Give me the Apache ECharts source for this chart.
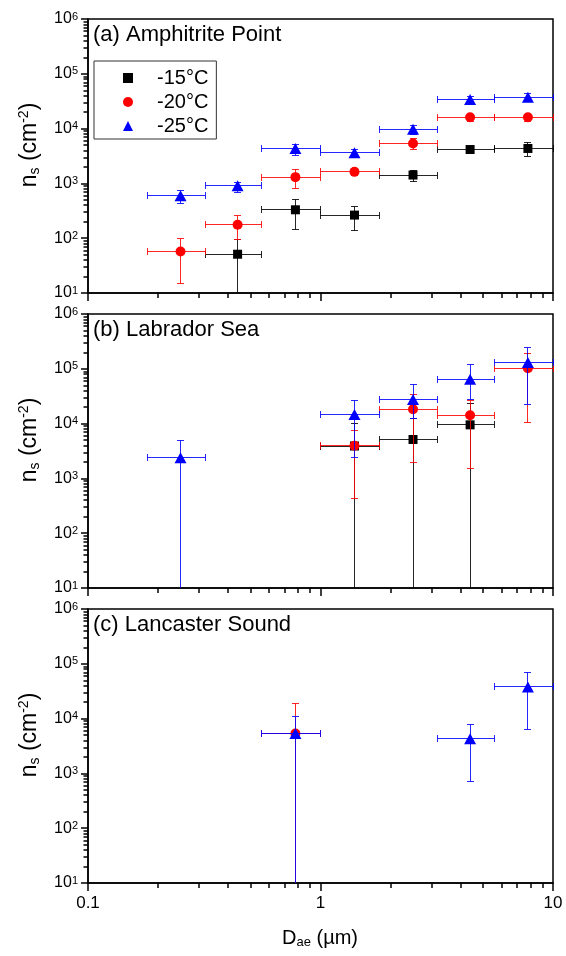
<!DOCTYPE html>
<html><head><meta charset="utf-8">
<script src="https://cdn.jsdelivr.net/npm/echarts@6/dist/echarts.min.js"></script>
<style>html,body{margin:0;padding:0;background:#fff}#c{width:566px;height:956px}</style>
</head><body><div id="c"></div>
<script>
// ---------- labels ----------
const tempNames = ['-15°C', '-20°C', '-25°C'];
const panelTitles = ['(a) Amphitrite Point', '(b) Labrador Sea', '(c) Lancaster Sound'];

// ---------- size bins (µm): centre, lower edge, upper edge ----------
const binCenter = [0.25, 0.44, 0.78, 1.4, 2.5, 4.4, 7.8];
const binLow    = [0.18, 0.32, 0.56, 1.0, 1.8, 3.2, 5.6];
const binHigh   = [0.32, 0.56, 1.0, 1.8, 3.2, 5.6, 10];

// ---------- n_s values (cm^-2); null = no point; 0 = lower error reaches zero ----------
// (a) Amphitrite Point
const a15 = [null, 51, 330, 264, 1420, 4150, 4340];
const a15Lo = [null, 0, 143, 141, 1070, 3560, 3100];
const a15Hi = [null, 96, 516, 386, 1720, 4710, 5570];
const a20 = [57, 176, 1300, 1625, 5350, 16150, 16150];
const a20Lo = [15.2, 96, 798, 1397, 4220, 13450, 13450];
const a20Hi = [99, 257, 1796, 1897, 6590, 18300, 18300];
const a25 = [594, 903, 4340, 3612, 9750, 33900, 37300];
const a25Lo = [437, 684, 3270, 2933, 7800, 27100, 31100];
const a25Hi = [743, 1054, 5130, 4220, 11200, 38400, 43500];
// (b) Labrador Sea
const b15 = [null, null, null, 3900, 5130, 9490, null];
const b15Lo = [null, null, null, 0, 0, 0, null];
const b15Hi = [null, null, null, 9890, 12500, 23500, null];
const b20 = [null, null, null, 3930, 18300, 14200, 102000];
const b20Lo = [null, null, null, 431, 1977, 1540, 10600];
const b20Hi = [null, null, null, 7480, 34400, 26700, 192000];
const b25 = [2370, null, null, 14600, 27500, 64400, 130000];
const b25Lo = [0, null, null, 2410, 12500, 27000, 21900];
const b25Hi = [4910, null, null, 26700, 50800, 119000, 246000];
// (c) Lancaster Sound
const c15 = [null, null, null, null, null, null, null];
const c15Lo = [null, null, null, null, null, null, null];
const c15Hi = [null, null, null, null, null, null, null];
const c20 = [null, null, 5350, null, null, null, null];
const c20Lo = [null, null, 0, null, null, null, null];
const c20Hi = [null, null, 18800, null, null, null, null];
const c25 = [null, null, 5350, null, null, 4280, 37800];
const c25Lo = [null, null, 0, null, null, 722, 6410];
const c25Hi = [null, null, 11070, null, null, 7900, 70100];

const panels = [
  [[a15, a15Lo, a15Hi], [a20, a20Lo, a20Hi], [a25, a25Lo, a25Hi]],
  [[b15, b15Lo, b15Hi], [b20, b20Lo, b20Hi], [b25, b25Lo, b25Hi]],
  [[c15, c15Lo, c15Hi], [c20, c20Lo, c20Hi], [c25, c25Lo, c25Hi]]
];

const colors = ['#000000', '#ff0000', '#0000ff'];
const symbols = ['rect', 'circle', 'triangle'];
const symbolSizes = [9, 10, [12, 11]];
const FONT = '"Liberation Sans", Arial, sans-serif';

const gridTops = [19, 314, 609];
const gridH = 274, gridLeft = 88, gridRight = 13;

const chart = echarts.init(document.getElementById('c'));

const grids = [], xAxes = [], yAxes = [], series = [], graphics = [];

function crisp(v) { return Math.round(v - 0.5) + 0.5; }

function renderErr(params, api) {
  const x = api.value(0), y = api.value(1);
  const xl = api.value(2), xh = api.value(3), yl = api.value(4), yh = api.value(5);
  const cs = params.coordSys;
  const bottom = cs.y + cs.height;
  const c = api.coord([x, y]);
  const cx = crisp(c[0]), cy = crisp(c[1]);
  const color = api.visual('color');
  const cap = 3.5;
  const ch = [];
  const line = (x1, y1, x2, y2) => ch.push({
    type: 'line', shape: { x1, y1, x2, y2 },
    style: { stroke: color, lineWidth: 1, opacity: 0.85 }
  });
  const pxl = crisp(api.coord([xl, y])[0]);
  const pxh = crisp(api.coord([xh, y])[0]);
  line(pxl, cy, pxh, cy);
  line(pxl, cy - cap, pxl, cy + cap);
  line(pxh, cy - cap, pxh, cy + cap);
  const pyh = crisp(api.coord([x, yh])[1]);
  line(cx, cy, cx, pyh);
  line(cx - cap, pyh, cx + cap, pyh);
  if (yl > 0) {
    const pyl = crisp(api.coord([x, yl])[1]);
    line(cx, cy, cx, pyl);
    line(cx - cap, pyl, cx + cap, pyl);
  } else {
    line(cx, cy, cx, bottom);
  }
  return { type: 'group', children: ch };
}

panels.forEach((panel, pi) => {
  grids.push({ left: gridLeft, right: gridRight, top: gridTops[pi], height: gridH,
    show: true, borderColor: '#000', borderWidth: 1.5, backgroundColor: 'transparent' });
  xAxes.push({
    type: 'log', logBase: 10, min: 0.1, max: 10, gridIndex: pi,
    axisLine: { onZero: false, lineStyle: { color: '#000', width: 1.5 } },
    axisTick: { inside: false, length: 8, lineStyle: { color: '#000', width: 1.5 } },
    minorTick: { show: true, splitNumber: 9, length: 5, lineStyle: { color: '#000', width: 1.5 } },
    axisLabel: { show: pi === 2, color: '#000', fontSize: 17, fontFamily: FONT, margin: 12 },
    splitLine: { show: false }, minorSplitLine: { show: false }
  });
  yAxes.push({
    type: 'log', logBase: 10, min: 10, max: 1000000, gridIndex: pi, splitNumber: 5,
    axisLine: { onZero: false, lineStyle: { color: '#000', width: 1.5 } },
    axisTick: { inside: false, length: 7, lineStyle: { color: '#000', width: 1.5 } },
    minorTick: { show: true, splitNumber: 9, length: 4.5, lineStyle: { color: '#000', width: 1.5 } },
    axisLabel: {
      color: '#000', fontFamily: FONT, margin: 10,
      formatter: v => '{b|10}{s|' + Math.round(Math.log10(v)) + '}',
      rich: {
        b: { fontSize: 16, lineHeight: 16, fontFamily: FONT, color: '#000' },
        s: { fontSize: 11, lineHeight: 11, verticalAlign: 'top', fontFamily: FONT, color: '#000' }
      }
    },
    splitLine: { show: false }, minorSplitLine: { show: false }
  });

  panel.forEach((arrs, ti) => {
    const [vals, lo, hi] = arrs;
    const errData = [], ptData = [];
    vals.forEach((v, k) => {
      if (v === null) return;
      errData.push([binCenter[k], v, binLow[k], binHigh[k], lo[k], hi[k]]);
      ptData.push([binCenter[k], v]);
    });
    series.push({
      type: 'custom', name: 'err' + pi + ti, xAxisIndex: pi, yAxisIndex: pi, clip: false,
      dimensions: ['x', 'y', 'xlo', 'xhi', 'ylo', 'yhi'], encode: { x: 0, y: 1 },
      itemStyle: { color: colors[ti] }, data: errData, renderItem: renderErr, z: 2 + ti * 2
    });
    series.push({
      type: 'scatter', name: tempNames[ti], xAxisIndex: pi, yAxisIndex: pi,
      symbol: symbols[ti], symbolSize: symbolSizes[ti],
      itemStyle: { color: colors[ti], opacity: 1 }, data: ptData, z: 3 + ti * 2
    });
  });

  graphics.push({
    type: 'text', left: 93, top: gridTops[pi] + 5,
    style: { text: panelTitles[pi], fontSize: 22, fontFamily: FONT, fill: '#000' }
  });
  graphics.push({
    type: 'text', x: 30, y: gridTops[pi] + 126, rotation: Math.PI / 2,
    style: {
      text: '{n|n}{sub|s}{n| (cm}{sup|-2}{n|)}', align: 'center', verticalAlign: 'middle',
      rich: {
        n: { fontSize: 23, lineHeight: 25, fontFamily: FONT, fill: '#000' },
        sub: { fontSize: 14, lineHeight: 12, verticalAlign: 'bottom', fontFamily: FONT, fill: '#000' },
        sup: { fontSize: 14, lineHeight: 12, verticalAlign: 'top', fontFamily: FONT, fill: '#000' }
      }
    }
  });
});

graphics.push({
  type: 'text', x: 320, y: 938,
  style: {
    text: '{n|D}{sub|ae}{n| (µm)}', align: 'center', verticalAlign: 'middle',
    rich: {
      n: { fontSize: 20, lineHeight: 22, fontFamily: FONT, fill: '#000' },
      sub: { fontSize: 13, lineHeight: 11, verticalAlign: 'bottom', fontFamily: FONT, fill: '#000' }
    }
  }
});

chart.setOption({
  animation: false,
  backgroundColor: '#fff',
  textStyle: { fontFamily: FONT },
  grid: grids, xAxis: xAxes, yAxis: yAxes, series: series, graphic: graphics,
  legend: {
    orient: 'vertical', left: 94, top: 61,
    data: tempNames.map((n, i) => ({ name: n, icon: symbols[i] })),
    itemWidth: 10, itemHeight: 10, itemGap: 4,
    padding: [7, 8, 3, 29],
    borderColor: '#333', borderWidth: 1, selectedMode: false,
    textStyle: { fontSize: 20, color: '#000', fontFamily: FONT, padding: [0, 0, 0, 19] }
  }
});
</script>
</body></html>
